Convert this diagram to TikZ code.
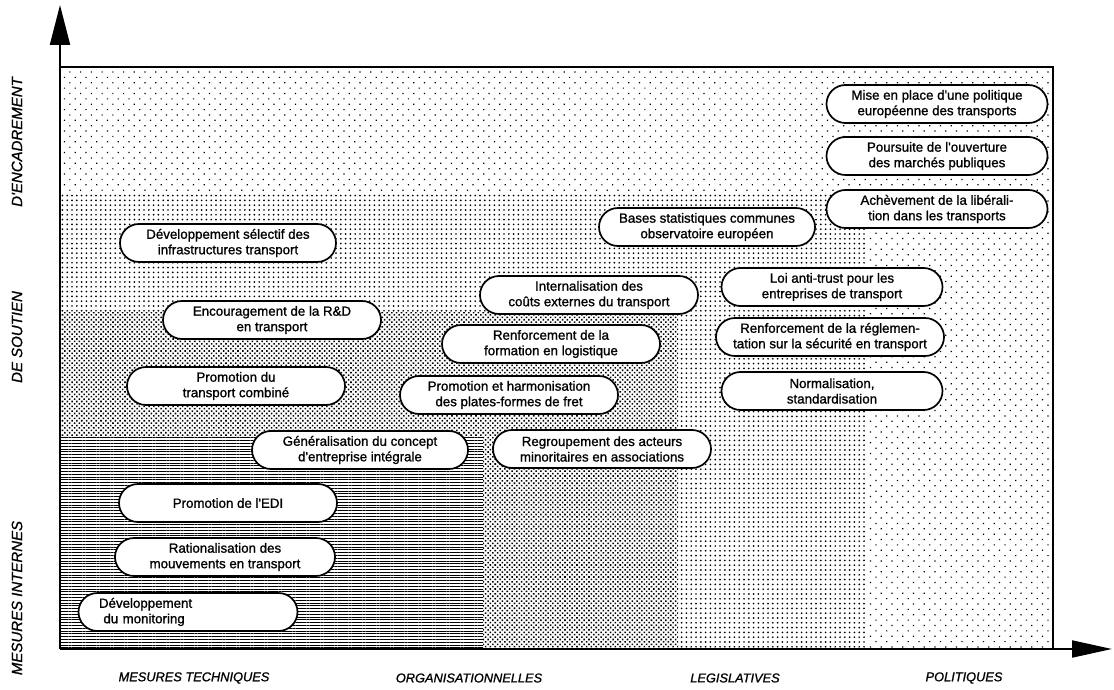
\documentclass[tikz,border=0pt]{standalone}
\usepackage{fontspec}
\setmainfont{Liberation Sans}
\newfontfamily\heavysans{Liberation Sans}[FakeBold=1.1]
\usetikzlibrary{patterns.meta,shapes.misc,arrows.meta}

\begin{document}
\begin{tikzpicture}[x=1pt,y=-1pt,
  measure/.style={rounded rectangle, draw, line width=1.7pt, fill=white,
    minimum width=222pt, minimum height=38pt, inner xsep=2pt, inner ysep=1pt,
    align=center, font=\heavysans\fontsize{13.3}{15.5}\selectfont},
  axislabel/.style={font=\heavysans\fontsize{12.8}{14}\selectfont\itshape, inner sep=0pt},
  levellabel/.style={font=\heavysans\fontsize{15}{16}\selectfont\itshape, inner sep=0pt, rotate=90},
  axisline/.style={line width=2pt}]

\useasboundingbox (0,0) rectangle (1114,690);

% shaded zones, from the widest to the innermost
\fill[white] (60,67) rectangle (1053,649);
\fill[pattern={Dots[distance=7.6pt, angle=45, radius=0.85pt]}] (60,67) rectangle (1053,649);
\fill[white] (60,193) rectangle (867,649);
\fill[pattern={Dots[distance=4.8pt, radius=0.95pt]}] (60,193) rectangle (867,649);
\fill[white] (60,312) rectangle (678,649);
\fill[pattern={Dots[distance=3.4pt, angle=45, radius=1.1pt]}] (60,312) rectangle (678,649);
\fill[white] (60,437) rectangle (483,649);
\fill[pattern={Lines[distance=2.8pt, line width=1pt]}] (60,437) rectangle (483,649);

% frame
\draw[line width=1.2pt] (60,67) -- (1053,67) -- (1053,649);

% axes
\coordinate (O) at (60,649);
\coordinate (ytip) at (60,5);
\coordinate (xtip) at (1112,649);
\draw[axisline, -{Triangle[length=40pt,width=20pt]}] (O) -- (ytip);
\draw[axisline, -{Triangle[length=40pt,width=17pt]}] (O) -- (xtip);

% axis labels
\node[levellabel] (lvl1) at (17,142) {D'ENCADREMENT};
\node[levellabel] (lvl2) at (17,337) {DE SOUTIEN};
\node[levellabel] (lvl3) at (17,598) {MESURES INTERNES};
\node[axislabel] (typ1) at (194,678) {MESURES TECHNIQUES};
\node[axislabel] (typ2) at (469,678) {ORGANISATIONNELLES};
\node[axislabel] (typ3) at (735,678) {LEGISLATIVES};
\node[axislabel] (typ4) at (964,678) {POLITIQUES};

% measures
\node[measure, minimum width=225pt] (m1) at (937,104) {Mise en place d'une politique\\européenne des transports};
\node[measure, minimum width=225pt] (m2) at (937,156) {Poursuite de l'ouverture\\des marchés publiques};
\node[measure, minimum width=225pt] (m3) at (937,209) {Achèvement de la libérali-\\tion dans les transports};
\node[measure, minimum width=220pt] (m4) at (707,227) {Bases statistiques communes\\observatoire européen};
\node[measure, minimum width=220pt] (m5) at (228,243) {Développement sélectif des\\infrastructures transport};
\node[measure, minimum width=225pt] (m6) at (832,287) {Loi anti-trust pour les\\entreprises de transport};
\node[measure] (m7) at (589,295) {Internalisation des\\coûts externes du transport};
\node[measure] (m8) at (272,320) {Encouragement de la R\&D\\en transport};
\node[measure] (m9) at (551,344) {Renforcement de la\\formation en logistique};
\node[measure, minimum width=232pt] (m10) at (830,337) {Renforcement de la réglemen-\\tation sur la sécurité en transport};
\node[measure] (m11) at (236,386) {Promotion du\\transport combiné};
\node[measure] (m12) at (509,395) {Promotion et harmonisation\\des plates-formes de fret};
\node[measure, minimum width=225pt] (m13) at (832,391) {Normalisation,\\standardisation};
\node[measure, minimum width=220pt] (m14) at (360,450) {Généralisation du concept\\d'entreprise intégrale};
\node[measure] (m15) at (602,449) {Regroupement des acteurs\\minoritaires en associations};
\node[measure] (m16) at (228,503) {Promotion de l'EDI};
\node[measure, minimum width=224pt] (m17) at (225,557) {Rationalisation des\\mouvements en transport};
\node[measure, minimum width=223pt, text width=178pt, align=left] (m18) at (188,612) {Développement\\\ du monitoring};

\end{tikzpicture}
\end{document}
